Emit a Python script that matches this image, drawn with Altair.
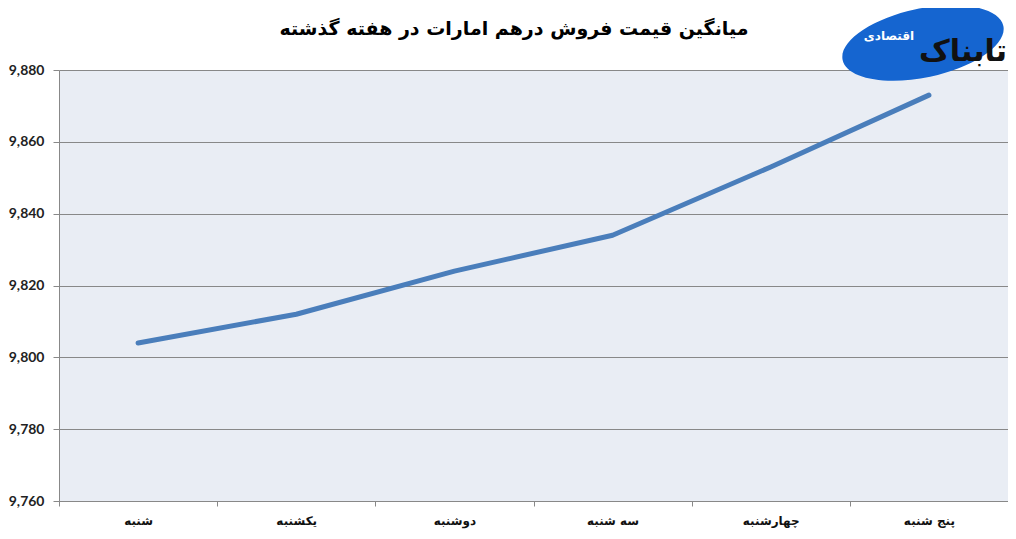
import pandas as pd
import altair as alt

# weekdays (Saturday .. Thursday) and average selling price of the UAE dirham
days = ["شنبه", "یکشنبه", "دوشنبه", "سه شنبه", "چهارشنبه", "پنج شنبه"]
prices = [9804, 9812, 9824, 9834, 9853, 9873]
y_ticks = [9760, 9780, 9800, 9820, 9840, 9860, 9880]

df = pd.DataFrame({"day": days, "price": prices})

line = alt.Chart(df).mark_line(
    color="#4A7EBB",
    strokeWidth=5,
    strokeCap="round",
    strokeJoin="round").encode(
    x=alt.X(
        "day:N",
        sort=None,
        bandPosition=0.5,
        scale=alt.Scale(type="band", paddingInner=0, paddingOuter=0),
        axis=alt.Axis(
            title=None,
            tickBand="extent",
            labelAngle=0,
            labelFont="DejaVu Sans",
            labelFontSize=12,
            labelFontWeight="bold",
            labelColor="#111111",
            labelPadding=9,
            tickSize=5,
            tickColor="#888888",
            domainColor="#888888",
            grid=False)
    ),
    y=alt.Y(
        "price:Q",
        scale=alt.Scale(domain=[9760, 9880]),
        axis=alt.Axis(
            title=None,
            values=y_ticks,
            format=",.0f",
            labelFont="Lato",
            labelFontSize=14,
            labelFontWeight="bold",
            labelColor="#222222",
            labelPadding=9,
            tickSize=6,
            tickColor="#888888",
            domainColor="#888888",
            gridColor="#888888",
            gridWidth=1)
    ))

# chart title drawn as text above the plot area
title_df = pd.DataFrame({"t": ["میانگین قیمت فروش درهم امارات در هفته گذشته"]})
title = alt.Chart(title_df).mark_text(
    font="DejaVu Sans",
    fontSize=19,
    fontWeight="bold",
    color="#000000",
    align="center",
    baseline="middle").encode(
    text="t:N",
    x=alt.value(455),
    y=alt.value(-41))

# site logo in the top right corner (decoration)
logo_df = pd.DataFrame({"a": [0]})
ellipse = "M -1 0 A 1 0.42 0 1 0 1 0 A 1 0.42 0 1 0 -1 0 Z"
logo = alt.Chart(logo_df).mark_point(
    shape=ellipse,
    filled=True,
    size=27000,
    angle=348,
    color="#1565D0",
    opacity=1).encode(
    x=alt.value(864),
    y=alt.value(-27))
logo_text = alt.Chart(logo_df).mark_text(
    text="تابناک",
    font="DejaVu Sans",
    fontSize=30,
    fontWeight="bold",
    color="#111111",
    align="center",
    baseline="middle").encode(
    x=alt.value(904),
    y=alt.value(-18))
logo_sub = alt.Chart(logo_df).mark_text(
    text="اقتصادی",
    font="DejaVu Sans",
    fontSize=12,
    fontWeight="bold",
    color="#ffffff",
    align="center",
    baseline="middle").encode(
    x=alt.value(830),
    y=alt.value(-34))

chart = (line + title + logo + logo_text + logo_sub).properties(
    width=949,
    height=431,
    autosize=alt.AutoSizeParams(type="none"),
    padding={"left": 51, "top": 62, "right": 0, "bottom": 30})

chart = chart.configure(background="#ffffff").configure_view(
    stroke=None,
    fill="#E9EDF4")

chart.save("out.html", embed_options={"renderer": "svg", "actions": False})
